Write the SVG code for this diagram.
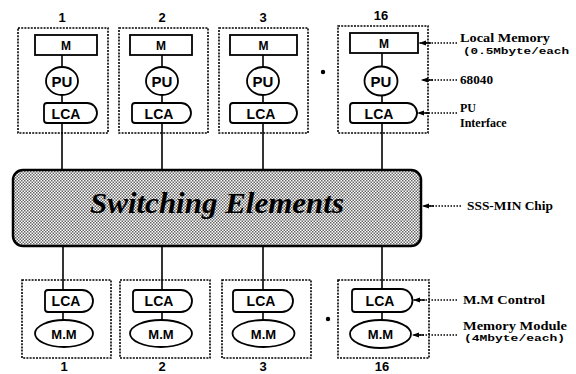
<svg xmlns="http://www.w3.org/2000/svg" width="576" height="374" viewBox="0 0 576 374">
<defs>
<pattern id="ht" width="3" height="3" patternUnits="userSpaceOnUse">
<rect width="3" height="3" fill="#fff"/>
<rect width="1.5" height="1.5" fill="#666"/>
<rect x="1.5" y="1.5" width="1.5" height="1.5" fill="#666"/>
</pattern>
<marker id="ah" markerUnits="userSpaceOnUse" markerWidth="13" markerHeight="7" viewBox="-13 -3.5 13 7" refX="0" refY="0" orient="auto" overflow="visible">
<path d="M0,0 L-7,-2.6 L-7,2.6 Z M-7,-0.8 H-12 V0.8 H-7 Z" fill="#000"/>
</marker>
</defs>
<style>
.dash{fill:none;stroke:#000;stroke-width:1.6;stroke-dasharray:2 1.2}
.sh{fill:#fff;stroke:#000;stroke-width:1.8}
.ln{stroke:#000;stroke-width:1.6;fill:none}
.lab{font-family:"Liberation Sans",Arial,sans-serif;font-weight:bold;text-anchor:middle;fill:#000}
.num{font-family:"Liberation Sans",Arial,sans-serif;font-weight:bold;font-size:13px;text-anchor:middle;fill:#000}
.side{font-family:"Liberation Serif","Times New Roman",serif;font-weight:bold;font-size:12px;fill:#000}
.mono{font-family:"Liberation Mono","Courier New",monospace;font-weight:bold;font-size:9px;fill:#000}
.ptr{stroke:#000;stroke-width:1.5;stroke-dasharray:1.5 1.5;fill:none;marker-end:url(#ah)}
</style>

<g id="connectors">
<line class="ln" x1="62" y1="54" x2="62" y2="171"/>
<line class="ln" x1="162" y1="54" x2="162" y2="171"/>
<line class="ln" x1="263" y1="54" x2="263" y2="171"/>
<line class="ln" x1="382" y1="53" x2="382" y2="171"/>
<line class="ln" x1="63" y1="246" x2="63" y2="322"/>
<line class="ln" x1="162" y1="246" x2="162" y2="322"/>
<line class="ln" x1="263" y1="246" x2="263" y2="322"/>
<line class="ln" x1="382" y1="246" x2="382" y2="322"/>
<line class="ptr" x1="457" y1="43" x2="419" y2="43"/>
<line class="ptr" x1="457" y1="80" x2="421" y2="80"/>
<line class="ptr" x1="457" y1="113" x2="417" y2="113"/>
<line class="ptr" x1="461" y1="206" x2="422" y2="206"/>
<line class="ptr" x1="457" y1="300" x2="413" y2="300"/>
<line class="ptr" x1="457" y1="335" x2="412" y2="335"/>
</g>

<g id="pe1">
<text class="num" x="62" y="22">1</text>
<rect class="dash" x="18" y="28" width="90" height="105"/>
<rect class="sh" x="35" y="35" width="62" height="20"/>
<text class="lab" x="66" y="50" font-size="12">M</text>
<ellipse class="sh" cx="62" cy="81" rx="16" ry="14"/>
<text class="lab" x="62" y="86.5" font-size="15">PU</text>
<path class="sh" d="M47,103 H87 A10,10 0 0 1 87,123 H47 Q44,123 44,120 V106 Q44,103 47,103 Z"/>
<text class="lab" x="66" y="118.5" font-size="14">LCA</text>
</g>
<g id="pe2">
<text class="num" x="162" y="22">2</text>
<rect class="dash" x="119" y="28" width="89" height="105"/>
<rect class="sh" x="130" y="35" width="62" height="20"/>
<text class="lab" x="161" y="50" font-size="12">M</text>
<ellipse class="sh" cx="162" cy="81" rx="16" ry="14"/>
<text class="lab" x="162" y="86.5" font-size="15">PU</text>
<path class="sh" d="M135,103 H181 A10,10 0 0 1 181,123 H135 Q132,123 132,120 V106 Q132,103 135,103 Z"/>
<text class="lab" x="159" y="118.5" font-size="14">LCA</text>
</g>
<g id="pe3">
<text class="num" x="263" y="22">3</text>
<rect class="dash" x="219" y="28" width="89" height="105"/>
<rect class="sh" x="230" y="35" width="67" height="20"/>
<text class="lab" x="263.5" y="50" font-size="12">M</text>
<ellipse class="sh" cx="263" cy="81" rx="16" ry="14"/>
<text class="lab" x="263" y="86.5" font-size="15">PU</text>
<path class="sh" d="M233,103 H287 A10,10 0 0 1 287,123 H233 Q230,123 230,120 V106 Q230,103 233,103 Z"/>
<text class="lab" x="261" y="118.5" font-size="14">LCA</text>
</g>
<g id="pe16">
<text class="num" x="381" y="20">16</text>
<rect class="dash" x="338" y="26" width="90" height="107"/>
<rect class="sh" x="350" y="33" width="68" height="20"/>
<text class="lab" x="384" y="48" font-size="12">M</text>
<ellipse class="sh" cx="381" cy="81" rx="16.5" ry="14.5"/>
<text class="lab" x="381" y="86.5" font-size="15">PU</text>
<path class="sh" d="M353,103 H407 A10,10 0 0 1 407,123 H353 Q350,123 350,120 V106 Q350,103 353,103 Z"/>
<text class="lab" x="379" y="118.5" font-size="14">LCA</text>
</g>
<circle cx="323" cy="72" r="2.2" fill="#000"/>

<g id="switch">
<rect x="13" y="170" width="408" height="76" rx="10" ry="10" fill="url(#ht)" stroke="#000" stroke-width="2.5"/>
<text x="217" y="213" font-family="'Liberation Serif','Times New Roman',serif" font-weight="bold" font-style="italic" font-size="30" text-anchor="middle" textLength="254" lengthAdjust="spacingAndGlyphs">Switching Elements</text>
</g>

<g id="mm1">
<rect class="dash" x="22" y="280" width="89" height="78"/>
<path class="sh" d="M48,290 H82 A11,11 0 0 1 82,312 H48 Q45,312 45,309 V293 Q45,290 48,290 Z"/>
<text class="lab" x="66" y="306" font-size="14">LCA</text>
<ellipse class="sh" cx="64" cy="333.5" rx="29" ry="13.5"/>
<text class="lab" x="64" y="338.5" font-size="13">M.M</text>
<text class="num" x="64" y="371">1</text>
</g>
<g id="mm2">
<rect class="dash" x="120" y="280" width="90" height="78"/>
<path class="sh" d="M136,290 H181 A11,11 0 0 1 181,312 H136 Q133,312 133,309 V293 Q133,290 136,290 Z"/>
<text class="lab" x="159" y="306" font-size="14">LCA</text>
<ellipse class="sh" cx="161" cy="333.5" rx="31" ry="13.5"/>
<text class="lab" x="161" y="338.5" font-size="13">M.M</text>
<text class="num" x="162" y="371">2</text>
</g>
<g id="mm3">
<rect class="dash" x="222" y="280" width="89" height="78"/>
<path class="sh" d="M236,290 H282 A11,11 0 0 1 282,312 H236 Q233,312 233,309 V293 Q233,290 236,290 Z"/>
<text class="lab" x="261" y="306" font-size="14">LCA</text>
<ellipse class="sh" cx="263.5" cy="333.5" rx="31" ry="13.5"/>
<text class="lab" x="263.5" y="338.5" font-size="13">M.M</text>
<text class="num" x="263" y="371">3</text>
</g>
<g id="mm16">
<rect class="dash" x="338" y="280" width="91" height="78"/>
<path class="sh" d="M355,289 H401 A11.5,11.5 0 0 1 401,312 H355 Q352,312 352,309 V292 Q352,289 355,289 Z"/>
<text class="lab" x="380" y="305.5" font-size="14">LCA</text>
<ellipse class="sh" cx="380.5" cy="334" rx="30.5" ry="14"/>
<text class="lab" x="380.5" y="339" font-size="13">M.M</text>
<text class="num" x="382" y="371">16</text>
</g>
<circle cx="328" cy="319" r="2.2" fill="#000"/>

<g id="labels">
<text class="side" x="460" y="42" textLength="90" lengthAdjust="spacingAndGlyphs">Local Memory</text>
<text class="mono" x="463" y="54" textLength="106" lengthAdjust="spacingAndGlyphs">(0.5Mbyte/each</text>
<text class="side" x="460" y="84" textLength="33" lengthAdjust="spacingAndGlyphs">68040</text>
<text class="side" x="460" y="112">PU</text>
<text class="side" x="460" y="127" font-size="11">Interface</text>
<text class="side" x="467" y="210" font-size="11" textLength="86" lengthAdjust="spacingAndGlyphs">SSS-MIN Chip</text>
<text class="side" x="463" y="304" textLength="82" lengthAdjust="spacingAndGlyphs">M.M Control</text>
<text class="side" x="463" y="330" textLength="104" lengthAdjust="spacingAndGlyphs">Memory Module</text>
<text class="mono" x="464" y="341" font-size="7.5" textLength="101" lengthAdjust="spacingAndGlyphs">(4Mbyte/each)</text>
</g>
</svg>
